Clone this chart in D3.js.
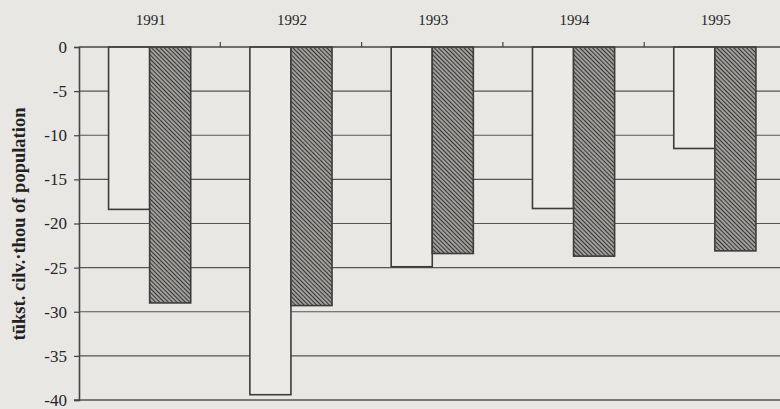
<!DOCTYPE html>
<html>
<head>
<meta charset="utf-8">
<script src="https://cdn.jsdelivr.net/npm/d3@7/dist/d3.min.js"></script>
<style>
  body { margin: 0; background: #e8e7e4; }
  svg { display: block; }
  .tick-label { font-family: "Liberation Serif", "DejaVu Serif", serif; fill: #262626; }
</style>
</head>
<body>
<div id="chart"></div>
<script>

// data
var years = ["1991", "1992", "1993", "1994", "1995"];
var series = ["plain", "hatched"];
var plainValues = [-18.4, -39.4, -24.9, -18.3, -11.5];
var hatchedValues = [-29.0, -29.3, -23.4, -23.7, -23.1];
var yTicks = [0, -5, -10, -15, -20, -25, -30, -35, -40];
var yTitle = "tūkst. cilv.·thou of population";

var width = 780, height = 409;
var margin = {top: 47, left: 79};
var plotBottom = 400;

var svg = d3.select("#chart").append("svg")
    .attr("width", width)
    .attr("height", height);

// hatch pattern for the second bar
var defs = svg.append("defs");
var pat = defs.append("pattern")
    .attr("id", "hatch")
    .attr("patternUnits", "userSpaceOnUse")
    .attr("width", 3)
    .attr("height", 3)
    .attr("patternTransform", "rotate(45)");
pat.append("rect")
    .attr("width", 3).attr("height", 3)
    .attr("fill", "#a09f9c");
pat.append("line")
    .attr("x1", 0).attr("y1", 0)
    .attr("x2", 3).attr("y2", 0)
    .attr("stroke", "#363636")
    .attr("stroke-width", 2);

var x0 = d3.scaleBand()
    .domain(years)
    .range([margin.left, margin.left + 5 * 141.3])
    .padding(0);

var x1 = d3.scaleBand()
    .domain(series)
    .range([0, x0.bandwidth()])
    .paddingInner(0)
    .paddingOuter(0.72);

var y = d3.scaleLinear()
    .domain([0, -40])
    .range([margin.top, plotBottom]);

// gridlines
svg.append("g")
    .selectAll("line")
    .data(yTicks.filter(function(d) { return d != 0 && d != -40; }))
    .enter().append("line")
    .attr("x1", margin.left)
    .attr("x2", width)
    .attr("y1", function(d) { return y(d); })
    .attr("y2", function(d) { return y(d); })
    .attr("stroke", "#555")
    .attr("stroke-width", 1.2);

// bottom line
svg.append("line")
    .attr("x1", margin.left - 5).attr("x2", width)
    .attr("y1", y(-40)).attr("y2", y(-40))
    .attr("stroke", "#555")
    .attr("stroke-width", 1.6);

var rows = years.map(function(yr, i) {
    return {year: yr, plain: plainValues[i], hatched: hatchedValues[i]};
});

var groups = svg.append("g")
    .selectAll("g")
    .data(rows)
    .enter().append("g")
    .attr("transform", function(d) { return "translate(" + x0(d.year) + ",0)"; });

groups.selectAll("rect")
    .data(function(d) { return series.map(function(s) { return {key: s, value: d[s]}; }); })
    .enter().append("rect")
    .attr("x", function(d) { return x1(d.key); })
    .attr("y", y(0))
    .attr("width", x1.bandwidth())
    .attr("height", function(d) { return y(d.value) - y(0); })
    .attr("fill", function(d) { return d.key == "plain" ? "#ebeae7" : "url(#hatch)"; })
    .attr("stroke", "#3c3c3c")
    .attr("stroke-width", 1.6);

// y axis
var yAxis = d3.axisLeft(y)
    .tickValues(yTicks)
    .tickSize(5)
    .tickPadding(7)
    .tickFormat(d3.format("d"));

var yG = svg.append("g")
    .attr("transform", "translate(" + margin.left + ",0)")
    .call(yAxis);
yG.select(".domain").attr("stroke", "#444").attr("stroke-width", 1.6);
yG.selectAll(".tick line").attr("stroke", "#444").attr("stroke-width", 1.2);
yG.selectAll(".tick text")
    .attr("class", "tick-label")
    .style("font-size", "17px")
    .attr("fill", "#262626")
    .text(function(d) { return d == 0 ? "0" : "-" + Math.abs(d); });

// top axis (zero line) with ticks between years
svg.append("line")
    .attr("x1", margin.left).attr("x2", width)
    .attr("y1", y(0)).attr("y2", y(0))
    .attr("stroke", "#444")
    .attr("stroke-width", 1.6);

svg.append("g")
    .selectAll("line")
    .data(years.slice(1))
    .enter().append("line")
    .attr("x1", function(d) { return x0(d); })
    .attr("x2", function(d) { return x0(d); })
    .attr("y1", y(0))
    .attr("y2", y(0) - 5)
    .attr("stroke", "#444")
    .attr("stroke-width", 1.2);

svg.append("g")
    .selectAll("text")
    .data(years)
    .enter().append("text")
    .attr("class", "tick-label")
    .attr("x", function(d) { return x0(d) + x0.bandwidth() / 2 + 1; })
    .attr("y", 25)
    .attr("text-anchor", "middle")
    .style("font-size", "15px")
    .text(function(d) { return d; });

// y title
svg.append("text")
    .attr("transform", "translate(25," + 224 + ") rotate(-90)")
    .attr("text-anchor", "middle")
    .style("font-family", "'Liberation Serif', serif")
    .style("font-weight", "bold")
    .style("font-size", "18.5px")
    .attr("fill", "#222")
    .text(yTitle);

</script>
</body>
</html>
